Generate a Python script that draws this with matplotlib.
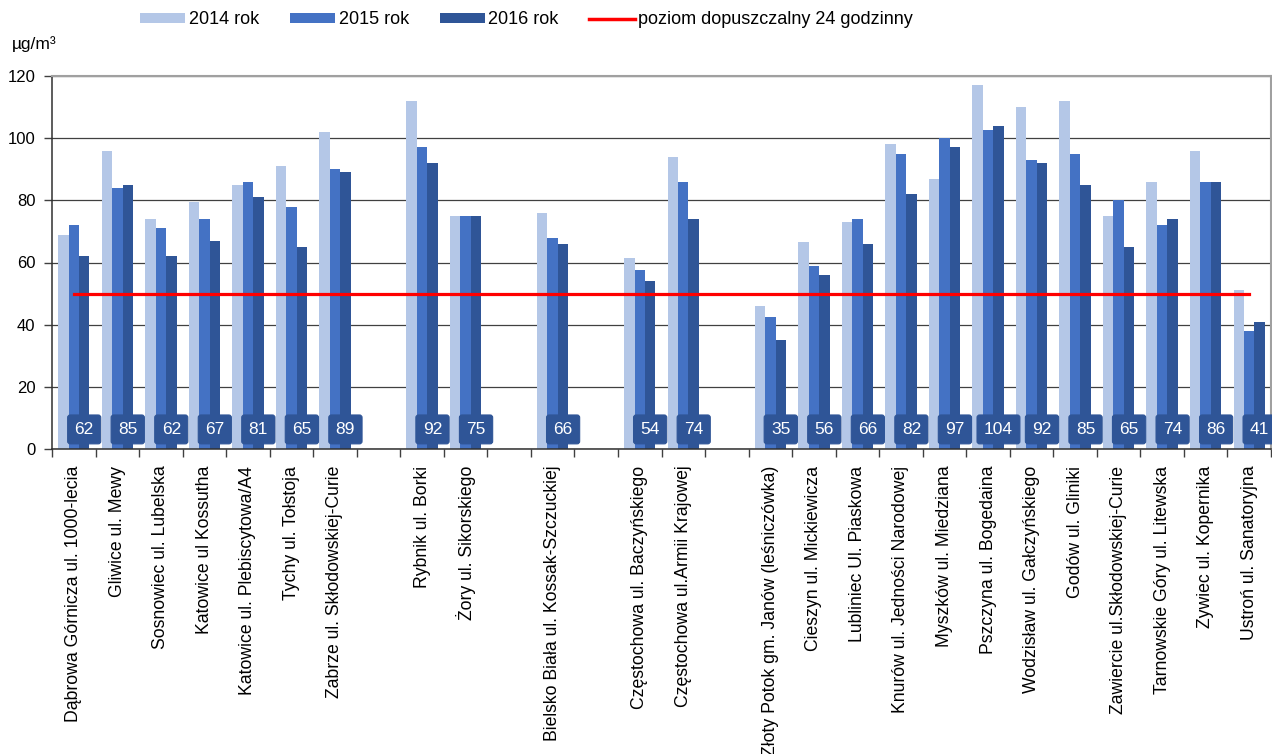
import numpy as np
import matplotlib
matplotlib.use("Agg")
import matplotlib.pyplot as plt
from matplotlib.lines import Line2D
from matplotlib.patches import Patch

plt.rcParams['font.family'] = ['Liberation Sans', 'DejaVu Sans']

categories = [
    "Dąbrowa Górnicza ul. 1000-lecia", "Gliwice ul. Mewy", "Sosnowiec ul. Lubelska",
    "Katowice ul Kossutha", "Katowice ul. Plebiscytowa/A4", "Tychy ul. Tołstoja",
    "Zabrze ul. Skłodowskiej-Curie", "", "Rybnik ul. Borki", "Żory ul. Sikorskiego", "",
    "Bielsko Biała ul. Kossak-Szczuckiej", "", "Częstochowa ul. Baczyńskiego",
    "Częstochowa ul.Armii Krajowej", "", "Złoty Potok gm. Janów (leśniczówka)",
    "Cieszyn ul. Mickiewicza", "Lubliniec Ul. Piaskowa", "Knurów ul. Jedności Narodowej",
    "Myszków ul. Miedziana", "Pszczyna ul. Bogedaina", "Wodzisław ul. Gałczyńskiego",
    "Godów ul. Gliniki", "Zawiercie ul.Skłodowskiej-Curie", "Tarnowskie Góry ul. Litewska",
    "Zywiec ul. Kopernika", "Ustroń ul. Sanatoryjna",
]
nan = np.nan
v2014 = [69, 96, 74, 79.5, 85, 91, 102, nan, 112, 75, nan, 76, nan, 61.5, 94, nan,
         46, 66.5, 73, 98, 87, 117, 110, 112, 75, 86, 96, 51]
v2015 = [72, 84, 71, 74, 86, 78, 90, nan, 97, 75, nan, 68, nan, 57.5, 86, nan,
         42.5, 59, 74, 95, 100, 102.5, 93, 95, 80, 72, 86, 38]
v2016 = [62, 85, 62, 67, 81, 65, 89, nan, 92, 75, nan, 66, nan, 54, 74, nan,
         35, 56, 66, 82, 97, 104, 92, 85, 65, 74, 86, 41]
limit = 50
series_names = ["2014 rok", "2015 rok", "2016 rok"]
limit_name = "poziom dopuszczalny 24 godzinny"
yticks = [0, 20, 40, 60, 80, 100, 120]

c14, c15, c16 = "#B4C7E7", "#4472C4", "#2F5597"

W, H = 1272, 754
fig = plt.figure(figsize=(W / 100, H / 100), dpi=100)
ax = fig.add_axes([52 / W, 1 - 449 / H, (1271 - 52) / W, (449 - 76) / H])

n = len(categories)
x = np.arange(n)
bw = 0.24
ax.bar(x - bw, v2014, bw, color=c14, zorder=2)
ax.bar(x, v2015, bw, color=c15, zorder=2)
ax.bar(x + bw, v2016, bw, color=c16, zorder=2)
ax.plot([x[0], x[-1]], [limit, limit], color="#FF0000", lw=2.3, zorder=3)

for xi, v in zip(x, v2016):
    if not np.isnan(v):
        ax.text(xi + bw, 6.3, f"{v:.0f}", color="white", fontsize=12.5,
                ha="center", va="center", zorder=5,
                bbox=dict(boxstyle="round,pad=0.4,rounding_size=0.15",
                          fc=c16, ec=c16, lw=0.8))

ax.set_xlim(-0.5, n - 0.5)
ax.set_ylim(0, 120)
ax.set_yticks(yticks)
ax.set_yticklabels([str(t) for t in yticks], fontsize=12)
ax.yaxis.grid(True, color="#404040", lw=0.9, zorder=0)
ax.set_axisbelow(True)

ax.set_xticks(np.arange(-0.5, n, 1.0))
ax.set_xticklabels([])
ax.set_xticks(x, minor=True)
ax.set_xticklabels(categories, minor=True, rotation=90, fontsize=12.7, va="top", ha="center")
ax.tick_params(axis="x", which="major", length=6, width=1, color="#404040", direction="out")
ax.tick_params(axis="x", which="minor", length=0, pad=12)
ax.tick_params(axis="y", length=6, width=1, color="#404040", pad=6)

for s in ["left", "bottom"]:
    ax.spines[s].set_color("#303030")
    ax.spines[s].set_linewidth(1.1)
for s in ["top", "right"]:
    ax.spines[s].set_color("#A0A0A0")
    ax.spines[s].set_linewidth(1.5)

fig.text(12 / W, 1 - 44 / H, "µg/m³", fontsize=12.5, ha="left", va="center")

handles = [Patch(fc=c14), Patch(fc=c15), Patch(fc=c16),
           Line2D([], [], color="#FF0000", lw=2.5)]
labels = series_names + [limit_name]
fig.legend(handles, labels, loc="center left", bbox_to_anchor=(124 / W, 1 - 20 / H),
           ncol=4, frameon=False, fontsize=13, handlelength=2.5, handleheight=0.5,
           handletextpad=0.2, columnspacing=1.7)

fig.savefig("out.png", dpi=100)
